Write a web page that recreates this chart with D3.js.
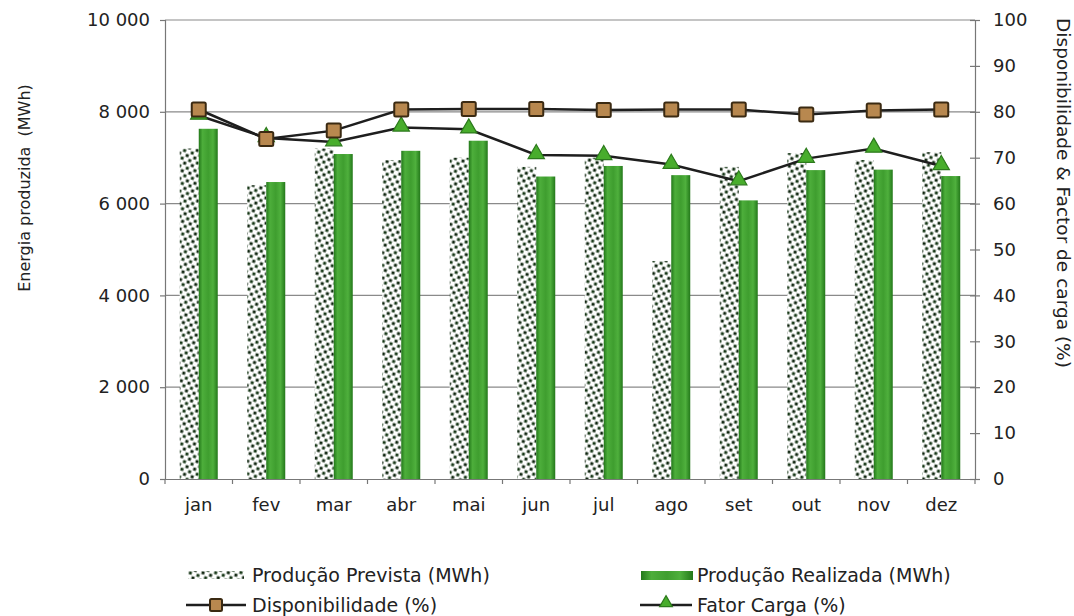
<!DOCTYPE html>
<html>
<head>
<meta charset="utf-8">
<script src="https://cdn.jsdelivr.net/npm/d3@7"></script>
<style>
  body { margin: 0; background: #fff; }
  svg { display: block; font-family: "DejaVu Sans", Verdana, sans-serif; }
</style>
</head>
<body>
<svg id="chart" width="1074" height="616"></svg>
<script>
// Monthly energy production and plant performance
const months = ["jan", "fev", "mar", "abr", "mai", "jun", "jul", "ago", "set", "out", "nov", "dez"];
const producaoPrevista = [7200, 6400, 7200, 6950, 7000, 6800, 7000, 4750, 6800, 7100, 6950, 7120];
const producaoRealizada = [7630, 6470, 7080, 7150, 7370, 6590, 6820, 6620, 6070, 6730, 6740, 6600];
const disponibilidade = [80.5, 74.1, 75.9, 80.5, 80.6, 80.6, 80.4, 80.5, 80.5, 79.4, 80.3, 80.5];
const fatorCarga = [79.2, 74.3, 73.4, 76.6, 76.2, 70.6, 70.4, 68.5, 64.9, 69.8, 72.0, 68.2];
const leftTicks = [0, 2000, 4000, 6000, 8000, 10000];
const rightTicks = [0, 10, 20, 30, 40, 50, 60, 70, 80, 90, 100];

const svg = d3.select("#chart");
const plot = { left: 165, right: 975, top: 20, bottom: 479 };

const x = d3.scaleBand().domain(months).range([plot.left, plot.right]);
const yL = d3.scaleLinear().domain([0, 10000]).range([plot.bottom, plot.top]);
const yR = d3.scaleLinear().domain([0, 100]).range([plot.bottom, plot.top]);

const fmt = d => d3.format(",")(d).replace(",", " ");

// Fills: dotted pattern for forecast, shaded green for actual
const defs = svg.append("defs");
const pat = defs.append("pattern")
  .attr("id", "dots").attr("patternUnits", "userSpaceOnUse")
  .attr("width", 8).attr("height", 8)
  .attr("patternTransform", "rotate(18)");
pat.append("rect").attr("width", 8).attr("height", 8).attr("fill", "#ffffff");
pat.append("rect").attr("x", 0.6).attr("y", 0.6).attr("width", 3).attr("height", 3).attr("fill", "#0f250f");
pat.append("rect").attr("x", 4.6).attr("y", 4.6).attr("width", 3).attr("height", 3).attr("fill", "#163616");

const grad = defs.append("linearGradient").attr("id", "green").attr("x1", 0).attr("x2", 1).attr("y1", 0).attr("y2", 0);
[[0, "#23781a"], [0.2, "#4dae3b"], [0.5, "#3f9e2f"], [0.75, "#4fb03d"], [1, "#23781a"]]
  .forEach(([o, c]) => grad.append("stop").attr("offset", o).attr("stop-color", c));

// Horizontal gridlines
svg.append("g").selectAll("line").data(leftTicks.filter(d => d > 0)).join("line")
  .attr("x1", plot.left).attr("x2", plot.right)
  .attr("y1", d => yL(d)).attr("y2", d => yL(d))
  .attr("stroke", "#8a8a8a").attr("stroke-width", 1.2);

// Left axis
const axL = svg.append("g").attr("transform", `translate(${plot.left},0)`)
  .call(d3.axisLeft(yL).tickValues(leftTicks).tickFormat(fmt).tickSize(5).tickPadding(10));
axL.select(".domain").attr("stroke", "#777").attr("stroke-width", 1.2);
axL.selectAll(".tick line").attr("stroke", "#777").attr("stroke-width", 1.2);
axL.selectAll("text").attr("font-size", 18).attr("fill", "#222").attr("font-family", "DejaVu Sans");

// Right axis: ticks cross the axis line
const axR = svg.append("g").attr("transform", `translate(${plot.right},0)`)
  .call(d3.axisRight(yR).tickValues(rightTicks).tickSize(5).tickPadding(13));
axR.select(".domain").attr("stroke", "#777").attr("stroke-width", 1.2);
axR.selectAll(".tick line").attr("x1", -5).attr("stroke", "#777").attr("stroke-width", 1.2);
axR.selectAll("text").attr("font-size", 18).attr("fill", "#222").attr("font-family", "DejaVu Sans");

// Bottom axis
const axB = svg.append("g").attr("transform", `translate(0,${plot.bottom})`)
  .call(d3.axisBottom(x).tickSize(0).tickPadding(19));
axB.select(".domain").attr("stroke", "#777").attr("stroke-width", 1.2);
axB.selectAll("text").attr("font-size", 18).attr("fill", "#222").attr("font-family", "DejaVu Sans");
svg.append("g").selectAll("line").data(months.concat(["end"])).join("line")
  .attr("x1", (d, i) => plot.left + i * x.step()).attr("x2", (d, i) => plot.left + i * x.step())
  .attr("y1", plot.bottom).attr("y2", plot.bottom + 5)
  .attr("stroke", "#777").attr("stroke-width", 1.2);

// Bars
const inner = d3.scaleBand().domain(["prev", "real"]).range([0, 38]);
const off = (x.bandwidth() - 38) / 2;
svg.append("g").selectAll("rect").data(months).join("rect")
  .attr("x", d => x(d) + off + inner("prev"))
  .attr("width", inner.bandwidth())
  .attr("y", (d, i) => yL(producaoPrevista[i]))
  .attr("height", (d, i) => yL(0) - yL(producaoPrevista[i]))
  .attr("fill", "url(#dots)");
svg.append("g").selectAll("rect").data(months).join("rect")
  .attr("x", d => x(d) + off + inner("real"))
  .attr("width", inner.bandwidth())
  .attr("y", (d, i) => yL(producaoRealizada[i]))
  .attr("height", (d, i) => yL(0) - yL(producaoRealizada[i]))
  .attr("fill", "url(#green)");

// Lines
const cx = d => x(d) + x.bandwidth() / 2;
const line = vals => d3.line().x(d => cx(d)).y((d, i) => yR(vals[i]))(months);
svg.append("path").attr("d", line(disponibilidade)).attr("fill", "none")
  .attr("stroke", "#1e1e1e").attr("stroke-width", 2.5);
svg.append("path").attr("d", line(fatorCarga)).attr("fill", "none")
  .attr("stroke", "#1e1e1e").attr("stroke-width", 2.5);

const tri = d3.symbol().type(d3.symbolTriangle).size(115);
svg.append("g").selectAll("path").data(months).join("path")
  .attr("d", tri)
  .attr("transform", (d, i) => `translate(${cx(d)},${yR(fatorCarga[i]) - 1})`)
  .attr("fill", "#48ad2c").attr("stroke", "#2c7a1c").attr("stroke-width", 1.2);
svg.append("g").selectAll("rect").data(months).join("rect")
  .attr("x", d => cx(d) - 7).attr("y", (d, i) => yR(disponibilidade[i]) - 7)
  .attr("width", 14).attr("height", 14).attr("rx", 1.5)
  .attr("fill", "#b8884f").attr("stroke", "#3b2a12").attr("stroke-width", 2);

// Axis titles
svg.append("text").attr("transform", "translate(30,188) rotate(-90)")
  .attr("text-anchor", "middle").attr("font-size", 16).attr("fill", "#222")
  .style("white-space", "pre").text("Energia produzida  (MWh)");
svg.append("text").attr("transform", "translate(1057,193) rotate(90)")
  .attr("text-anchor", "middle").attr("font-size", 18.5).attr("fill", "#222")
  .text("Disponibilidade & Factor de carga (%)");

// Legend
const leg = svg.append("g").attr("font-size", 19).attr("fill", "#222");
leg.append("rect").attr("x", 188).attr("y", 571).attr("width", 56).attr("height", 8).attr("fill", "url(#dots)");
leg.append("text").attr("x", 252).attr("y", 582).text("Produção Prevista (MWh)");
leg.append("rect").attr("x", 641).attr("y", 571).attr("width", 52).attr("height", 9).attr("fill", "url(#green)");
leg.append("text").attr("x", 697).attr("y", 582).text("Produção Realizada (MWh)");
leg.append("line").attr("x1", 186).attr("x2", 246).attr("y1", 605).attr("y2", 605)
  .attr("stroke", "#1e1e1e").attr("stroke-width", 2.5);
leg.append("rect").attr("x", 210).attr("y", 599).attr("width", 12).attr("height", 12).attr("rx", 1.5)
  .attr("fill", "#b8884f").attr("stroke", "#3b2a12").attr("stroke-width", 2);
leg.append("text").attr("x", 252).attr("y", 612).text("Disponibilidade (%)");
leg.append("line").attr("x1", 640).attr("x2", 692).attr("y1", 605).attr("y2", 605)
  .attr("stroke", "#1e1e1e").attr("stroke-width", 2.5);
leg.append("path").attr("d", d3.symbol().type(d3.symbolTriangle).size(70))
  .attr("transform", "translate(666,603)")
  .attr("fill", "#48ad2c").attr("stroke", "#2c7a1c").attr("stroke-width", 1.2);
leg.append("text").attr("x", 697).attr("y", 612).text("Fator Carga (%)");
</script>
</body>
</html>
